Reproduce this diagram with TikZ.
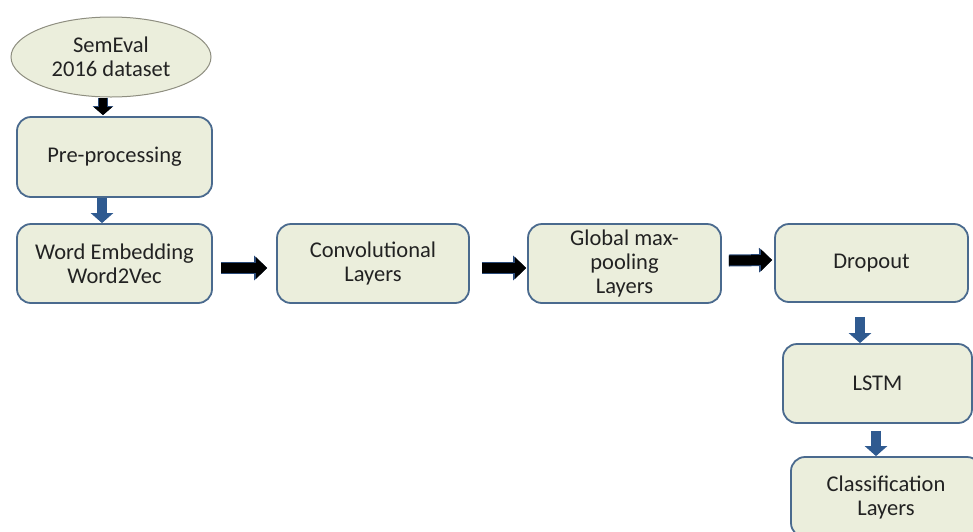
\documentclass[tikz,border=0pt]{standalone}
\usepackage{fontspec}
\setmainfont{Carlito}
\usetikzlibrary{shapes.geometric,arrows.meta}
\definecolor{boxfill}{HTML}{EBEEDC}
\definecolor{boxline}{HTML}{4A6A8E}
\definecolor{ellline}{HTML}{8E8E80}
\definecolor{bluearr}{HTML}{2F5A90}
\definecolor{arrline}{HTML}{2A4A78}
\definecolor{txt}{HTML}{222222}
\tikzset{
  stepbox/.style={draw=boxline, line width=1.8pt, fill=boxfill, rounded corners=14pt,
    align=center, text=txt, font=\fontsize{22.5}{24}\selectfont, inner sep=0pt},
  srcell/.style={ellipse, draw=ellline, line width=1pt, fill=boxfill,
    align=center, text=txt, font=\fontsize{22.5}{24}\selectfont, inner sep=0pt,
    minimum width=200pt, minimum height=80pt},
  blkarrow/.style={draw=black, line width=10pt, -{Triangle[width=21pt,length=11pt]},
    preaction={draw=arrline, line width=12pt, -{Triangle[width=24pt,length=13pt]}}},
  bluarrow/.style={draw=bluearr, line width=10pt, -{Triangle[width=22pt,length=10pt]}},
}
\begin{document}
\begin{tikzpicture}[x=1pt,y=-1pt]
\useasboundingbox (0,0) rectangle (973,531);
\node[srcell] (src) at (111,57) {SemEval\\2016 dataset};
\node[stepbox, minimum width=195pt, minimum height=80pt] (pre) at (114.5,157) {Pre-processing};
\node[stepbox, minimum width=195pt, minimum height=79pt] (we) at (114.5,263.5) {Word Embedding\\Word2Vec};
\node[stepbox, minimum width=192pt, minimum height=79pt] (conv) at (373,263.5) {Convolutional\\Layers};
\node[stepbox, minimum width=193pt, minimum height=79pt] (gmp) at (624.5,263.5) {Global max-\\pooling\\Layers};
\node[stepbox, minimum width=193pt, minimum height=78pt] (drop) at (871.5,263) {Dropout};
\node[stepbox, minimum width=189pt, minimum height=79pt] (lstm) at (877.5,383.5) {LSTM};
\node[stepbox, minimum width=190pt, minimum height=80pt] (cls) at (886,497) {Classification\\Layers};

\draw[draw=black, line width=8pt, -{Triangle[width=18pt,length=8pt]},
  preaction={draw=arrline, line width=10pt, -{Triangle[width=20pt,length=9pt]}}]
  (src.south -| 103,0) -- ([shift={(-11.5,-1)}]pre.north);
\draw[bluarrow] ([shift={(-12.5,0)}]pre.south) -- ([shift={(-12.5,0)}]we.north);
\draw[blkarrow] ([shift={(8,4.5)}]we.east) -- ([shift={(-9,4.5)}]conv.west);
\draw[blkarrow] ([shift={(12,4.5)}]conv.east) -- ([shift={(-1,4.5)}]gmp.west);
\draw[blkarrow] ([shift={(7,-3)}]gmp.east) -- ([shift={(-2,-3)}]drop.west);
\draw[bluarrow] ([shift={(-11.5,14)}]drop.south) -- ([shift={(-17.5,0)}]lstm.north);
\draw[bluarrow] ([shift={(-1.5,7)}]lstm.south) -- ([shift={(-10,0)}]cls.north);
\end{tikzpicture}
\end{document}
